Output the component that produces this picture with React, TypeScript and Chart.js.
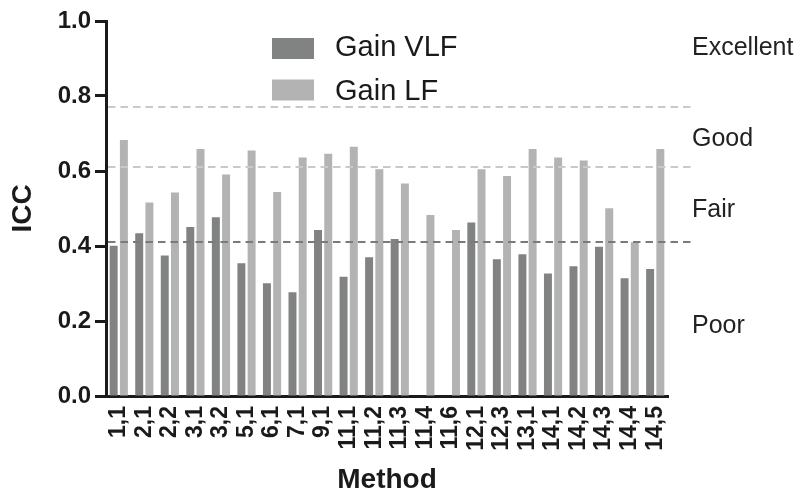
import React, { useEffect, useRef } from "react";
import { Chart, registerables } from "chart.js";

Chart.register(...registerables);

const methods = [
  "1,1", "2,1", "2,2", "3,1", "3,2", "5,1", "6,1", "7,1", "9,1", "11,1", "11,2",
  "11,3", "11,4", "11,6", "12,1", "12,3", "13,1", "14,1", "14,2", "14,3", "14,4", "14,5",
];

const gainVLF: (number | null)[] = [
  0.401, 0.434, 0.375, 0.451, 0.477, 0.354, 0.301, 0.277, 0.443, 0.318, 0.370,
  0.419, null, null, 0.463, 0.365, 0.378, 0.327, 0.346, 0.398, 0.314, 0.339,
];

const gainLF: number[] = [
  0.683, 0.516, 0.543, 0.659, 0.591, 0.655, 0.544, 0.636, 0.646, 0.665, 0.605,
  0.567, 0.483, 0.443, 0.605, 0.587, 0.659, 0.636, 0.628, 0.501, 0.410, 0.659,
];

const yTicks = [0, 0.2, 0.4, 0.6, 0.8, 1.0];

const thresholdValues = [0.41, 0.61, 0.77];
const thresholdColors = ["#7a7a7a", "#c9c9c9", "#c9c9c9"];

const zoneLabels = ["Excellent", "Good", "Fair", "Poor"];
const zoneBaselineValues = [0.909, 0.667, 0.478, 0.169];

const FONT = "'Liberation Sans', Arial, Helvetica, sans-serif";
const DARK = "#818382";
const LIGHT = "#b3b3b3";

const overlayPlugin = {
  id: "overlay",
  afterDatasetsDraw(chart: any) {
    const { ctx, chartArea } = chart;
    const y = chart.scales.y;
    ctx.save();
    ctx.lineWidth = 2;
    ctx.setLineDash([7.5, 5]);
    thresholdValues.forEach((v, i) => {
      const py = Math.round(y.getPixelForValue(v));
      ctx.strokeStyle = thresholdColors[i];
      ctx.beginPath();
      ctx.moveTo(chartArea.left + 2, py);
      ctx.lineTo(691, py);
      ctx.stroke();
    });
    ctx.restore();
  },
  afterDraw(chart: any) {
    const { ctx } = chart;
    const y = chart.scales.y;
    ctx.save();
    ctx.fillStyle = "#222222";
    ctx.font = `25px ${FONT}`;
    ctx.textAlign = "left";
    ctx.textBaseline = "alphabetic";
    zoneLabels.forEach((t, i) => {
      ctx.fillText(t, 692, y.getPixelForValue(zoneBaselineValues[i]));
    });
    const ds = chart.data.datasets;
    ctx.font = `29px ${FONT}`;
    const boxTops = [38, 79.5];
    const baselines = [55.5, 100];
    ds.forEach((d: any, i: number) => {
      ctx.fillStyle = d.backgroundColor;
      ctx.fillRect(272, boxTops[i], 42, 21);
      ctx.fillStyle = "#1a1a1a";
      ctx.fillText(d.label, 335, baselines[i]);
    });
    ctx.restore();
  },
};

export default function App() {
  const ref = useRef<HTMLCanvasElement>(null);

  useEffect(() => {
    if (!ref.current) return;
    const chart = new Chart(ref.current, {
      type: "bar",
      data: {
        labels: methods,
        datasets: [
          { label: "Gain VLF", data: gainVLF as any, backgroundColor: DARK },
          { label: "Gain LF", data: gainLF, backgroundColor: LIGHT },
        ],
      },
      options: {
        animation: false,
        responsive: true,
        maintainAspectRatio: false,
        datasets: {
          bar: { categoryPercentage: 0.8, barPercentage: 0.78 },
        },
        layout: { padding: { top: 21, right: 131, left: 0, bottom: 0 } },
        plugins: {
          legend: { display: false },
          tooltip: { enabled: false },
        },
        scales: {
          x: {
            afterFit: (s: any) => {
              s.height = 101;
            },
            grid: { display: false, drawTicks: false },
            border: { display: true, color: "#1a1a1a", width: 3 },
            ticks: {
              autoSkip: false,
              minRotation: 90,
              maxRotation: 90,
              padding: 10,
              color: "#1a1a1a",
              font: { family: FONT, size: 23, weight: "bold" },
            },
            title: {
              display: true,
              text: "Method",
              color: "#1a1a1a",
              padding: { top: 0, bottom: 0 },
              font: { family: FONT, size: 28, weight: "bold" },
            },
          },
          y: {
            min: 0,
            max: 1,
            afterFit: (s: any) => {
              s.width = 106;
            },
            afterBuildTicks: (s: any) => {
              s.ticks = yTicks.map((v) => ({ value: v }));
            },
            grid: {
              display: true,
              drawOnChartArea: false,
              drawTicks: true,
              tickLength: 11,
              tickWidth: 3,
              tickColor: "#1a1a1a",
            },
            border: { display: true, color: "#1a1a1a", width: 3 },
            ticks: {
              padding: 4,
              color: "#1a1a1a",
              font: { family: FONT, size: 24, weight: "bold" },
              callback: (v: any) => Number(v).toFixed(1),
            },
            title: {
              display: true,
              text: "ICC",
              color: "#1a1a1a",
              padding: { top: 6, bottom: 0 },
              font: { family: FONT, size: 28, weight: "bold" },
            },
          },
        },
      },
      plugins: [overlayPlugin],
    });
    return () => chart.destroy();
  }, []);

  return (
    <div
      style={{
        position: "fixed",
        left: 0,
        top: 0,
        width: 799,
        height: 497,
        background: "#ffffff",
      }}
    >
      <canvas ref={ref} />
    </div>
  );
}
